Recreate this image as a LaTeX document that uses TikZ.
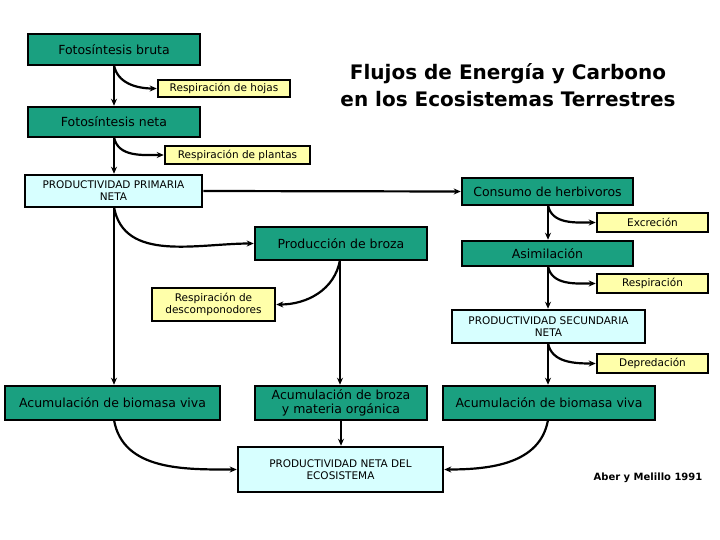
\documentclass[tikz,border=0pt]{standalone}
\usepackage{fontspec}
\setmainfont{DejaVu Sans}
\usetikzlibrary{arrows.meta}
\definecolor{teal1}{RGB}{26,160,128}
\definecolor{yel}{RGB}{255,255,170}
\definecolor{cyn}{RGB}{215,255,255}
\begin{document}
\begin{tikzpicture}[x=1pt,y=-1pt,
  bx/.style={draw=black,line width=2.5pt,inner sep=0pt,align=center,font=\fontsize{12.5}{14}\selectfont},
  g/.style={bx,fill=teal1},
  yw/.style={bx,fill=yel,font=\fontsize{10.5}{12}\selectfont},
  cy/.style={bx,fill=cyn,font=\fontsize{10.5}{12}\selectfont},
  arr/.style={line width=2.2pt,-{Stealth[length=7pt,width=6pt]}}]
\useasboundingbox (0,0) rectangle (720,540);
\newcommand{\bxat}[6]{\node[#1,minimum width=#4-#3,minimum height=#6-#5] (#2) at ({(#3+#4)/2},{(#5+#6)/2})}
\bxat{g}{fb}{28}{200}{34}{65} {Fotosíntesis bruta};
\bxat{yw}{rh}{158}{290}{80}{97} {Respiración de hojas};
\node[font=\bfseries\fontsize{20}{27}\selectfont,align=center] (tit) at (508,85) {Flujos de Energía y Carbono\\en los Ecosistemas Terrestres};
\bxat{g}{fn}{28}{200}{107}{137} {Fotosíntesis neta};
\bxat{yw}{rp}{165}{310}{146}{164} {Respiración de plantas};
\bxat{cy}{ppn}{25}{202}{175}{207} {PRODUCTIVIDAD PRIMARIA\\NETA};
\bxat{g}{ch}{462}{633}{178}{205} {Consumo de herbivoros};
\bxat{yw}{ex}{597}{708}{213}{232} {Excreción};
\bxat{g}{pb}{255}{427}{227}{260} {Producción de broza};
\bxat{g}{as}{462}{633}{241}{266} {Asimilación};
\bxat{yw}{re}{597}{708}{274}{293} {Respiración};
\bxat{yw}{rd}{152}{275}{288}{321} {Respiración de\\descomponodores};
\bxat{cy}{psn}{452}{645}{310}{343} {PRODUCTIVIDAD SECUNDARIA\\NETA};
\bxat{yw}{de}{597}{708}{354}{373} {Depredación};
\bxat{g}{al}{5}{220}{386}{420} {Acumulación de biomasa viva};
\bxat{g}{abr}{255}{427}{386}{420} {Acumulación de broza\\y materia orgánica};
\bxat{g}{arr}{443}{655}{386}{420} {Acumulación de biomasa viva};
\bxat{cy}{pne}{238}{443}{447}{492} {PRODUCTIVIDAD NETA DEL\\ECOSISTEMA};
\node[font=\bfseries\fontsize{10}{12}\selectfont] (aber) at (648,478) {Aber y Melillo 1991};
\coordinate (c1) at (114,65); \coordinate (c2) at (114,137); \coordinate (c3) at (114,207);
\coordinate (c4) at (340,260); \coordinate (c5) at (548,205); \coordinate (c6) at (548,266);
\coordinate (c7) at (548,343); \coordinate (c8) at (114,420); \coordinate (c9) at (548,420);
\draw[arr] (c1) -- (fn.north -| c1);
\draw[arr] (c1) to[out=-80,in=180] (rh.west);
\draw[arr] (c2) -- (ppn.north -| c2);
\draw[arr] (c2) to[out=-80,in=180] (rp.west);
\draw[arr] (ppn.east) -- (ch.west);
\draw[arr] (c3) -- (al.north -| c3);
\draw[arr] (c3) to[out=-80,in=180] (pb.west);
\draw[arr] (c4) -- (abr.north -| c4);
\draw[arr] (c4) to[out=-100,in=0] (rd.east);
\draw[arr] (abr.south) -- (pne.north -| abr.south);
\draw[arr] (c8) to[out=-80,in=180] (pne.west);
\draw[arr] (c9) to[out=-100,in=0] (pne.east);
\draw[arr] (c5) -- (as.north -| c5);
\draw[arr] (c5) to[out=-80,in=180] (ex.west);
\draw[arr] (c6) -- (psn.north -| c6);
\draw[arr] (c6) to[out=-80,in=180] (re.west);
\draw[arr] (c7) -- (arr.north -| c7);
\draw[arr] (c7) to[out=-80,in=180] (de.west);
\end{tikzpicture}
\end{document}
